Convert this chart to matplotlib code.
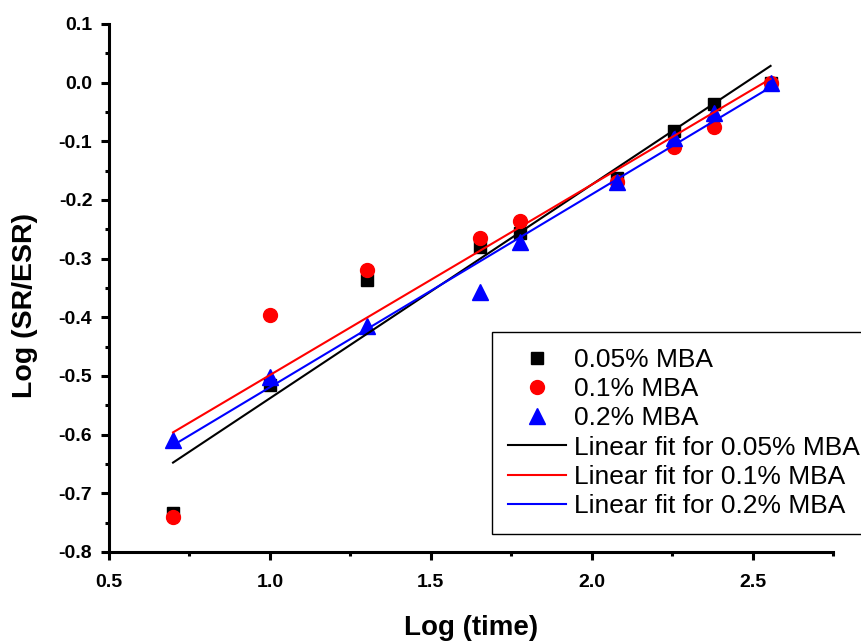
import numpy as np
import matplotlib
matplotlib.use('Agg')
import matplotlib.pyplot as plt
from matplotlib.ticker import MultipleLocator

plt.rcParams['font.family'] = ['Liberation Sans', 'DejaVu Sans']

log_time = [0.699, 1.0, 1.301, 1.653, 1.778, 2.079, 2.255, 2.380, 2.556]
mba_005 = [-0.733, -0.515, -0.337, -0.280, -0.257, -0.162, -0.082, -0.036, 0.0]
mba_01 = [-0.741, -0.396, -0.320, -0.264, -0.235, -0.170, -0.110, -0.075, 0.0]
mba_02 = [-0.609, -0.502, -0.415, -0.357, -0.272, -0.170, -0.094, -0.051, 0.0]

labels = ['0.05% MBA', '0.1% MBA', '0.2% MBA']
colors = ['black', 'red', 'blue']
markers = ['s', 'o', '^']
sizes = [8.5, 10, 11]


def main():
    fig = plt.figure(figsize=(8.62, 6.41), dpi=100)
    ax = fig.add_axes([109 / 862, 1 - 552 / 641, (833 - 109) / 862, (552 - 24) / 641])

    series = [mba_005, mba_01, mba_02]
    for y, lab, c, m, s in zip(series, labels, colors, markers, sizes):
        ax.plot(log_time, y, linestyle='none', marker=m, color=c, markersize=s, label=lab)

    x = np.array(log_time)
    xs = np.array([x.min(), x.max()])
    for y, lab, c in zip(series, labels, colors):
        k, b = np.polyfit(x, np.array(y), 1)
        ax.plot(xs, k * xs + b, color=c, linewidth=1.5, label='Linear fit for ' + lab)

    ax.set_xlim(0.5, 2.75)
    ax.set_ylim(-0.8, 0.1)
    ax.xaxis.set_major_locator(MultipleLocator(0.5))
    ax.xaxis.set_minor_locator(MultipleLocator(0.25))
    ax.yaxis.set_major_locator(MultipleLocator(0.1))
    ax.yaxis.set_minor_locator(MultipleLocator(0.05))
    ax.yaxis.set_major_formatter(lambda v, p: f'{v:.1f}'.replace('-0.0', '0.0'))

    for side in ['top', 'right']:
        ax.spines[side].set_visible(False)
    for side in ['left', 'bottom']:
        ax.spines[side].set_linewidth(2.2)

    ax.tick_params(which='major', direction='out', length=6, width=2.2, labelsize=14)
    ax.tick_params(which='minor', direction='out', length=3, width=2.2)
    ax.tick_params(axis='x', which='major', pad=10)
    ax.tick_params(axis='y', which='major', pad=6)
    for t in ax.get_xticklabels() + ax.get_yticklabels():
        t.set_fontweight('bold')

    ax.set_xlabel('Log (time)', fontsize=20, fontweight='bold', labelpad=17)
    ax.set_ylabel('Log (SR/ESR)', fontsize=20.5, fontweight='bold')
    ax.yaxis.set_label_coords(-0.098, 0.466)

    leg = ax.legend(loc='upper left', bbox_to_anchor=(492 / 862, 1 - 332 / 641),
                    bbox_transform=fig.transFigure, borderaxespad=0, fontsize=19,
                    frameon=True, fancybox=False, framealpha=1, edgecolor='black',
                    labelspacing=0.2, handlelength=2.2, handletextpad=0.3,
                    borderpad=0.6, markerscale=1.0)
    leg.get_frame().set_linewidth(1.0)

    fig.savefig('out.png', dpi=100)


if __name__ == "__main__":
    main()
